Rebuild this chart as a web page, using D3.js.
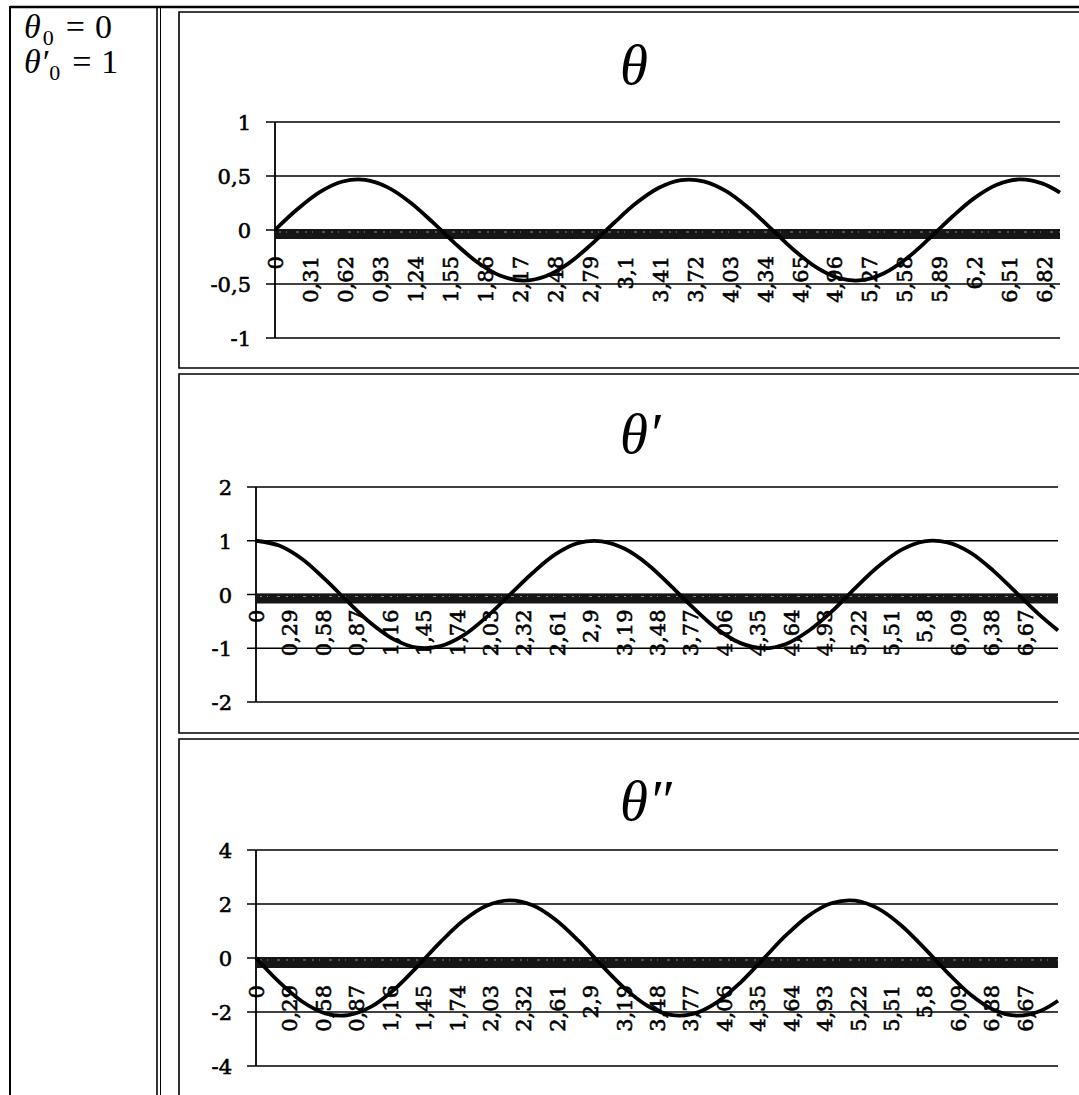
<!DOCTYPE html>
<html>
<head>
<meta charset="utf-8">
<script src="https://cdn.jsdelivr.net/npm/d3@7"></script>
<style>
  body { margin: 0; background: #fff; }
  svg { display: block; }
</style>
</head>
<body>
<script>
// Time samples (s)
const t = [0, 0.2, 0.4, 0.6, 0.8, 1.0, 1.2, 1.4, 1.6, 1.8, 2.0, 2.2, 2.4, 2.6, 2.8, 3.0,
           3.2, 3.4, 3.6, 3.8, 4.0, 4.2, 4.4, 4.6, 4.8, 5.0, 5.2, 5.4, 5.6, 5.8, 6.0,
           6.2, 6.4, 6.6, 6.8, 6.96];

// Angle θ
const theta = [0, 0.194, 0.353, 0.449, 0.464, 0.395, 0.255, 0.070, -0.128, -0.303, -0.424,
               -0.468, -0.428, -0.311, -0.138, 0.060, 0.247, 0.389, 0.462, 0.451, 0.360,
               0.203, 0.010, -0.185, -0.346, -0.446, -0.465, -0.400, -0.264, -0.080, 0.118,
               0.295, 0.419, 0.468, 0.432, 0.347];

// Angular velocity θ'
const thetaDot = [1.00, 0.91, 0.66, 0.28, -0.14, -0.54, -0.84, -0.99, -0.96, -0.76, -0.42,
                  -0.01, 0.40, 0.75, 0.96, 0.99, 0.85, 0.56, 0.16, -0.26, -0.64, -0.90,
                  -1.00, -0.92, -0.67, -0.31, 0.12, 0.52, 0.83, 0.99, 0.97, 0.78, 0.44,
                  0.03, -0.38, -0.67];

// Angular acceleration θ''
const thetaDDot = [0, -0.886, -1.612, -2.049, -2.116, -1.803, -1.166, -0.319, 0.586, 1.385,
                   1.935, 2.137, 1.954, 1.420, 0.631, -0.272, -1.127, -1.778, -2.109, -2.062,
                   -1.643, -0.928, -0.047, 0.843, 1.581, 2.035, 2.122, 1.828, 1.205, 0.365,
                   -0.540, -1.349, -1.915, -2.136, -1.973, -1.584];

// Category labels on the time axis
const xTicksTheta = [0, 0.31, 0.62, 0.93, 1.24, 1.55, 1.86, 2.17, 2.48, 2.79, 3.1, 3.41,
                     3.72, 4.03, 4.34, 4.65, 4.96, 5.27, 5.58, 5.89, 6.2, 6.51, 6.82];
const xTicksDeriv = [0, 0.29, 0.58, 0.87, 1.16, 1.45, 1.74, 2.03, 2.32, 2.61, 2.9, 3.19,
                     3.48, 3.77, 4.06, 4.35, 4.64, 4.93, 5.22, 5.51, 5.8, 6.09, 6.38, 6.67];

// Value axis ticks
const yTicksTheta = [-1, -0.5, 0, 0.5, 1];
const yTicksDot = [-2, -1, 0, 1, 2];
const yTicksDDot = [-4, -2, 0, 2, 4];

const titles = ["θ", "θ′", "θ″"];

const W = 1079, H = 1095;
const svg = d3.select("body").append("svg")
  .attr("width", W).attr("height", H)
  .attr("viewBox", `0 0 ${W} ${H}`);

svg.append("rect").attr("width", W).attr("height", H).attr("fill", "#fff");

const comma = v => String(v).replace(".", ",");

// ---- table frame ----
const frame = svg.append("g").attr("stroke", "#000").attr("fill", "none");
frame.append("line").attr("x1", 10).attr("x2", W).attr("y1", 7).attr("y2", 7).attr("stroke-width", 2.5);
frame.append("line").attr("x1", 10).attr("x2", 10).attr("y1", 6).attr("y2", H).attr("stroke-width", 2);
frame.append("line").attr("x1", 157).attr("x2", 157).attr("y1", 6).attr("y2", H).attr("stroke-width", 1.6);
frame.append("line").attr("x1", 160.5).attr("x2", 160.5).attr("y1", 6).attr("y2", H).attr("stroke-width", 1);

// initial conditions
const ic = svg.append("g").attr("font-family", "'Liberation Serif', serif")
  .attr("font-size", 34).attr("fill", "#000");
const line1 = ic.append("text").attr("x", 24).attr("y", 38);
line1.append("tspan").attr("font-style", "italic").text("θ");
line1.append("tspan").attr("font-size", 22).attr("dx", 2).attr("dy", 7).text("0");
line1.append("tspan").attr("dx", 12).attr("dy", -7).text("=");
line1.append("tspan").attr("dx", 10).text("0");

const line2 = ic.append("text").attr("x", 24).attr("y", 73);
line2.append("tspan").attr("font-style", "italic").text("θ′");
line2.append("tspan").attr("font-size", 22).attr("dx", 1).attr("dy", 7).text("0");
line2.append("tspan").attr("dx", 12).attr("dy", -7).text("=");
line2.append("tspan").attr("dx", 10).text("1");

// ---- charts ----
const charts = [
  { title: titles[0], values: theta, yTicks: yTicksTheta, xTicks: xTicksTheta,
    box: [179, 12, 368], x0: 275, x1: 1060, yTop: 122, yBot: 338, labelOff: 26, titleY: 84, band: 10 },
  { title: titles[1], values: thetaDot, yTicks: yTicksDot, xTicks: xTicksDeriv,
    box: [179, 374, 733], x0: 256, x1: 1058, yTop: 487, yBot: 702, labelOff: 15, titleY: 453, band: 10 },
  { title: titles[2], values: thetaDDot, yTicks: yTicksDDot, xTicks: xTicksDeriv,
    box: [179, 739, null], x0: 256, x1: 1058, yTop: 850, yBot: 1066, labelOff: 27, titleY: 820, band: 11 }
];

charts.forEach(c => {
  const g = svg.append("g");

  // chart frame (runs past the right page edge)
  const [bx, by0, by1] = c.box;
  const framePath = by1 === null
    ? `M${W + 5},${by0}H${bx}V${H + 5}`
    : `M${W + 5},${by0}H${bx}V${by1}H${W + 5}`;
  g.append("path").attr("d", framePath).attr("fill", "none").attr("stroke", "#000").attr("stroke-width", 1.6);

  // title
  g.append("text")
    .attr("x", 620).attr("y", c.titleY)
    .attr("font-family", "'Liberation Serif', serif")
    .attr("font-style", "italic").attr("font-size", 57)
    .text(c.title);

  const x = d3.scaleLinear().domain([0, t[t.length - 1]]).range([c.x0, c.x1]);
  const ext = c.yTicks[c.yTicks.length - 1];
  const y = d3.scaleLinear().domain([-ext, ext]).range([c.yBot, c.yTop]);

  // horizontal gridlines with short outside ticks
  g.append("g").selectAll("line").data(c.yTicks).join("line")
    .attr("x1", c.x0 - 9).attr("x2", c.x1)
    .attr("y1", d => y(d)).attr("y2", d => y(d))
    .attr("stroke", "#000").attr("stroke-width", 1.5);

  // value axis labels
  const yAxis = g.append("g").attr("transform", `translate(${c.x0 - 24},0)`)
    .call(d3.axisLeft(y).tickValues(c.yTicks).tickSize(0).tickPadding(0).tickFormat(comma));
  yAxis.select(".domain").remove();
  yAxis.selectAll("text")
    .attr("font-family", "'DejaVu Serif', serif").attr("font-size", 21)
    .attr("fill", "#000").attr("stroke", "#000").attr("stroke-width", 0.6)
    .attr("dy", "0.36em");

  // value axis line
  g.append("line").attr("x1", c.x0).attr("x2", c.x0)
    .attr("y1", y(ext)).attr("y2", y(-ext))
    .attr("stroke", "#000").attr("stroke-width", 1.8);

  // thick category axis along zero
  const y0 = y(0);
  g.append("rect").attr("x", c.x0).attr("y", y0 - 1)
    .attr("width", c.x1 - c.x0).attr("height", c.band).attr("fill", "#161616");
  g.append("line").attr("x1", c.x0 + 4).attr("x2", c.x1)
    .attr("y1", y0 + 2).attr("y2", y0 + 2)
    .attr("stroke", "#8a8a8a").attr("stroke-width", 1.2)
    .attr("stroke-dasharray", "2 5 1 9 3 6");

  // category labels, rotated
  const xAxis = g.append("g").attr("transform", `translate(0,${y0})`)
    .call(d3.axisBottom(x).tickValues(c.xTicks).tickSize(0).tickFormat(comma));
  xAxis.select(".domain").remove();
  xAxis.selectAll("text")
    .attr("transform", "rotate(-90)")
    .attr("x", -c.labelOff).attr("y", 0).attr("dy", "0.36em")
    .attr("text-anchor", "end")
    .attr("font-family", "'DejaVu Serif', serif").attr("font-size", 21)
    .attr("fill", "#000").attr("stroke", "#000").attr("stroke-width", 0.6);

  // series line
  const line = d3.line()
    .x((d, i) => x(t[i]))
    .y(d => y(d))
    .curve(d3.curveCatmullRom.alpha(0.5));
  g.append("path").datum(c.values)
    .attr("d", line)
    .attr("fill", "none").attr("stroke", "#000")
    .attr("stroke-width", 3.8).attr("stroke-linejoin", "round");
});
</script>
</body>
</html>
